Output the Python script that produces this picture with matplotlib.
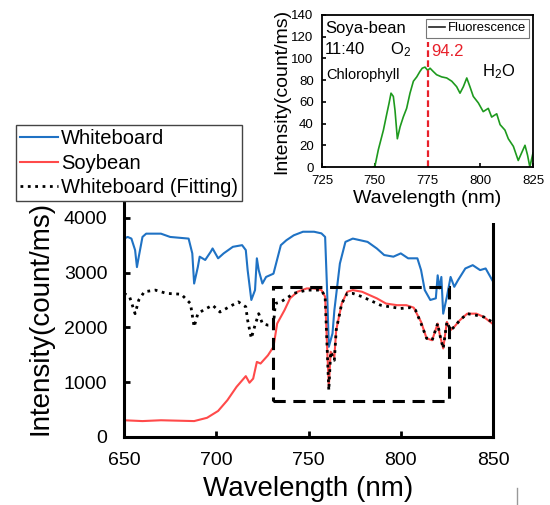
import numpy as np
import matplotlib
matplotlib.use('Agg')
import matplotlib.pyplot as plt
from matplotlib.patches import Rectangle
from matplotlib.lines import Line2D

plt.rcParams['font.family'] = ['Liberation Sans', 'DejaVu Sans']
plt.rcParams['mathtext.default'] = 'regular'

# main panel: whiteboard spectrum
wb_wl = [650, 652, 654, 656, 657, 658, 660, 662, 670, 675, 685, 687, 688, 690, 691, 694, 697, 698,
         701, 704, 709, 714, 716, 717, 719, 721, 722, 723, 725, 727, 731, 735, 738, 742, 747, 753,
         757, 759, 760, 761, 763, 764, 767, 770, 774, 778, 782, 787, 791, 796, 800, 804, 809, 811,
         813, 816, 819, 820, 821, 822, 823, 825, 827, 829, 831, 835, 839, 843, 846, 849.6]
wb_int = [3620, 3650, 3620, 3410, 3100, 3290, 3650, 3710, 3710, 3650, 3620, 3350, 2800, 3100, 3290,
          3230, 3380, 3440, 3260, 3350, 3470, 3500, 3410, 3045, 2500, 2680, 3260, 3045, 2800, 2920,
          2980, 3500, 3590, 3680, 3745, 3745, 3715, 3650, 2740, 1645, 1890, 2310, 3165, 3560, 3620,
          3590, 3560, 3440, 3320, 3290, 3350, 3260, 3260, 3045, 2680, 2500, 2530, 2950, 2710, 2920,
          2250, 2560, 2920, 2740, 2860, 3075, 3135, 3045, 3075, 2860]

# soybean spectrum
sb_wl = [650, 660, 670, 688, 695, 701, 706, 711, 716, 718, 720, 722, 724, 728, 731, 733, 737, 740,
         744, 749, 753, 757, 759, 760, 761, 762, 764, 765, 768, 771, 774, 779, 782, 787, 792, 798,
         803, 807, 811, 814, 817, 820, 821, 823, 825, 827, 829, 832, 836, 841, 845, 849.6]
sb_int = [305, 290, 305, 290, 350, 475, 670, 915, 1110, 990, 1065, 1370, 1340, 1490, 1645, 2070,
          2315, 2530, 2650, 2710, 2710, 2680, 2560, 1705, 915, 1555, 1460, 1950, 2435, 2650, 2680,
          2650, 2605, 2530, 2435, 2405, 2405, 2360, 2100, 1800, 1765, 2070, 1890, 1615, 2100, 1950,
          2010, 2130, 2250, 2250, 2190, 2070]

# whiteboard fitting
fit_wl = [650, 653, 656, 658, 661, 667, 673, 681, 686, 688, 690, 693, 698, 702, 707, 712, 716, 717,
          719, 721, 723, 725, 728, 731, 732, 735, 738, 742, 749, 753, 757, 759, 760, 761, 762, 764,
          765, 768, 771, 774, 779, 783, 789, 794, 800, 805, 808, 811, 814, 817, 820, 821, 823, 825,
          827, 829, 832, 836, 841, 845, 849.6]
fit_int = [2620, 2560, 2250, 2500, 2650, 2680, 2620, 2605, 2435, 2010, 2250, 2315, 2405, 2280, 2375,
           2465, 2375, 2130, 1800, 2040, 2250, 2070, 2040, 2040, 2435, 2465, 2530, 2620, 2680, 2680,
           2680, 2560, 1705, 850, 1555, 1400, 1950, 2435, 2620, 2620, 2560, 2500, 2405, 2375, 2345,
           2360, 2315, 2070, 1800, 1765, 2070, 1890, 1615, 2100, 1950, 2010, 2130, 2250, 2220, 2190,
           2100]

# zoom box (wavelength range, intensity range)
box_wl = [731, 826]
box_int = [650, 2740]

# inset: fluorescence
fl_wl = [749.4, 750.1, 751.7, 754.1, 755.7, 756.8, 757.7, 758.8, 759.6, 760.7, 762.0, 763.5, 765.1,
         766.7, 768.3, 769.9, 771.4, 772.5, 773.8, 775.1, 776.2, 777.7, 779.3, 781.7, 784.1, 786.5,
         788.8, 790.4, 792.0, 793.6, 795.1, 796.7, 799.1, 801.4, 803.8, 805.4, 807.8, 809.4, 811.7,
         813.3, 815.7, 818.0, 819.6, 821.2, 822.4, 823.5, 825.0]
fl_int = [0, 1, 16, 34, 49, 59, 68, 65, 52, 26, 37, 46, 54, 68, 79, 83, 88, 91, 92, 89, 91, 88, 85,
          83, 82, 79, 74, 68, 74, 82, 74, 65, 59, 51, 54, 46, 49, 39, 34, 26, 19, 6, 13, 20, 11, 0, 13]
peak_wl = 775.4
peak_top = 115

fig = plt.figure(figsize=(5.5, 5.05), dpi=100)
ax = fig.add_axes([0.2255, 0.1347, 0.6709, 0.5426])

ax.plot(wb_wl, wb_int, '-', color='#1f72c4', lw=1.5, label='Whiteboard')
ax.plot(sb_wl, sb_int, '-', color='#ff4a4a', lw=1.5, label='Soybean')
ax.plot(fit_wl, fit_int, ':', color='black', lw=2, label='Whiteboard (Fitting)')
ax.add_patch(Rectangle((box_wl[0], box_int[0]), box_wl[1] - box_wl[0], box_int[1] - box_int[0],
                       fill=False, ls=(0, (4, 2.5)), lw=2.2, ec='black', zorder=3))

ax.set_xlim(650, 850)
ax.set_ylim(0, 5000)
ax.set_xticks([650, 700, 750, 800, 850])
ax.set_yticks([0, 1000, 2000, 3000, 4000])
ax.tick_params(direction='in', length=4, width=2, labelsize=14)
ax.tick_params(axis='x', pad=11)
ax.tick_params(axis='y', pad=12)
for s in ax.spines.values():
    s.set_linewidth(2.2)
ax.spines['top'].set_visible(False)
ax.set_xlabel('Wavelength (nm)', fontsize=20, labelpad=5)
ax.set_ylabel('Intensity(count/ms)', fontsize=20)
ax.yaxis.set_label_coords(-0.192, 0.435)

leg = ax.legend(loc='upper left', bbox_to_anchor=(16 / 550, 1 - 125 / 505),
                bbox_transform=fig.transFigure, borderaxespad=0, fontsize=14.5,
                handlelength=1.9, handletextpad=0.15, labelspacing=0.28, borderpad=0.2,
                fancybox=False, framealpha=1, edgecolor='#444444')
leg.get_frame().set_linewidth(1)

# white backing of the inset
fig.patches.append(Rectangle((250 / 550, 1 - 223 / 505), 300 / 550, 223 / 505,
                             transform=fig.transFigure, fc='white', ec='none', zorder=1))

axi = fig.add_axes([0.5855, 0.6693, 0.3836, 0.301], zorder=2)
axi.plot(fl_wl, fl_int, '-', color='#1e9a1e', lw=1.2)
axi.vlines(peak_wl, 0, peak_top, colors='#e8202a', linestyles=(0, (3, 1.5)), lw=1.6)
axi.set_xlim(725, 825)
axi.set_ylim(0, 140)
axi.set_xticks([725, 750, 775, 800, 825])
axi.set_yticks(np.arange(0, 141, 20))
axi.tick_params(direction='in', length=3, width=1.2, labelsize=9.5, pad=6)
for s in axi.spines.values():
    s.set_linewidth(1.3)
axi.set_xlabel('Wavelength (nm)', fontsize=14, labelpad=2)
axi.set_ylabel('Intensity(count/ms)', fontsize=14, labelpad=1)

fl_handle = Line2D([], [], color='#222222', lw=1.2)
lg2 = axi.legend([fl_handle], ['Fluorescence'], loc='upper right',
                 bbox_to_anchor=(529 / 550, 1 - 19 / 505),
                 bbox_transform=fig.transFigure, borderaxespad=0, fontsize=9.4,
                 handlelength=1.2, handletextpad=0.2, borderpad=0.25,
                 fancybox=False, framealpha=1, edgecolor='#777777')
lg2.get_frame().set_linewidth(0.8)

axi.text(0.014, 0.908, 'Soya-bean', transform=axi.transAxes, fontsize=12, va='center')
axi.text(0.014, 0.77, '11:40', transform=axi.transAxes, fontsize=12, va='center')
axi.text(0.32, 0.77, 'O$_2$', transform=axi.transAxes, fontsize=12, va='center')
axi.text(0.019, 0.605, 'Chlorophyll', transform=axi.transAxes, fontsize=10.5, va='center')
axi.text(0.52, 0.757, '94.2', transform=axi.transAxes, fontsize=12, va='center', color='#e8202a')
axi.text(0.758, 0.625, 'H$_2$O', transform=axi.transAxes, fontsize=12, va='center')

fig.add_artist(Line2D([517 / 550, 517 / 550], [0, 17 / 505], transform=fig.transFigure,
                      color='#999999', lw=1))

fig.savefig('out.png', dpi=100)
